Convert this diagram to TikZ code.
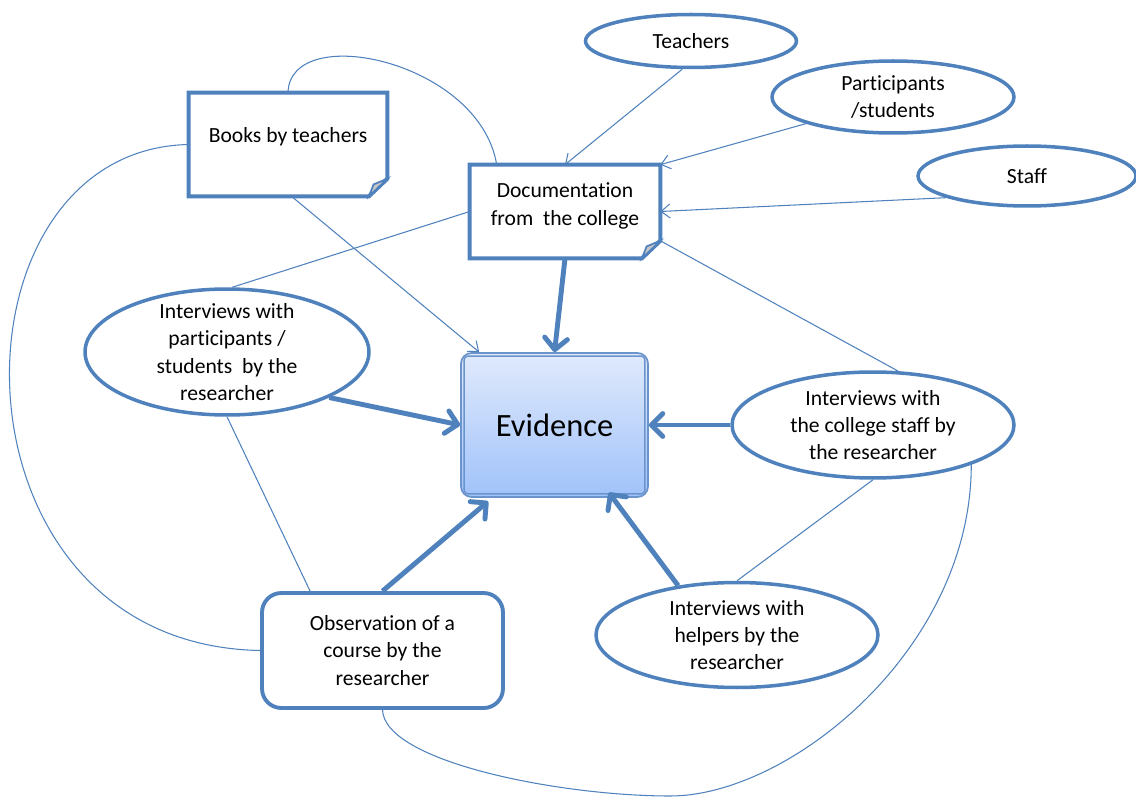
\documentclass[tikz,border=0pt]{standalone}
\usepackage{fontspec}
\setmainfont{Carlito}[Ligatures={NoCommon}]
\usetikzlibrary{shapes.geometric,arrows.meta}

\definecolor{ublue}{RGB}{79,129,189}
\definecolor{evtop}{RGB}{224,234,252}
\definecolor{evbot}{RGB}{160,194,250}
\definecolor{evline}{RGB}{108,148,204}

% outline of a sheet with a folded lower right corner
\newcommand{\sheetedge}[1]{%
  \draw[ublue, line width=2.3pt, line join=miter] (#1.north west) -- (#1.north east)
    -- ([yshift=10pt]#1.south east) -- ([xshift=-10.5pt]#1.south east) -- (#1.south west) -- cycle;
  \draw[ublue, line width=1pt, fill=gray!45] ([xshift=-10.5pt]#1.south east)
    -- ([shift={(-7.8pt,6.8pt)}]#1.south east) -- ([yshift=10pt]#1.south east) -- cycle;
}

\begin{document}
\begin{tikzpicture}[x=0.02cm, y=-0.02cm,
  every node/.style={font=\fontsize{12.3}{15.5}\selectfont},
  oval/.style={ellipse, draw=ublue, fill=white, line width=2pt, inner sep=0pt},
  sheet/.style={rectangle, fill=white, inner sep=0pt, align=center},
  roundbox/.style={rectangle, rounded corners=11pt, draw=ublue, fill=white, line width=2.2pt, align=center},
  evbox/.style={rectangle, rounded corners=6pt, draw=evline, line width=1pt, top color=evtop, bottom color=evbot,
    font=\fontsize{18.5}{22}\selectfont},
  link/.style={ublue, line width=0.6pt},
  linkarrow/.style={link, -{Straight Barb[length=5pt,width=8pt]}},
  feed/.style={ublue, line width=2.8pt, -{Straight Barb[length=6.5pt,width=13pt,round]}}]
  \useasboundingbox (0,0) rectangle (1136,797);

  % sources of the documentation
  \node[oval, minimum width=4.22cm, minimum height=1.06cm] (teachers) at (691,41) {Teachers};
  \node[oval, minimum width=4.84cm, minimum height=1.44cm, align=center] (part) at (893,97) {Participants\\/students};
  \node[oval, minimum width=4.36cm, minimum height=1.2cm] (staff) at (1027,176) {Staff};

  % documents
  \node[sheet, minimum width=3.96cm, minimum height=2.06cm, text depth=11pt] (books) at (288,144.5) {Books by teachers};
  \node[sheet, minimum width=3.8cm, minimum height=1.86cm] (doc) at (565,211.5) {Documentation\\[0pt]from\ \ the college\\[-7pt]\mbox{}};
  \sheetedge{books}
  \sheetedge{doc}

  % centre
  \node[evbox, minimum width=3.74cm, minimum height=2.88cm] (evid) at (554.5,425) {Evidence};
  \draw[evline, line width=0.8pt, rounded corners=2pt] ([shift={(2.3pt,-2.3pt)}]evid.north west)
    rectangle ([shift={(-2.3pt,2.3pt)}]evid.south east);

  % interviews and observation
  \node[oval, minimum width=5.68cm, minimum height=2.52cm,
    label={[align=center]center:Interviews with\\participants /\\students\ \ by the\\researcher}] (ipart) at (227,352) {};
  \node[oval, minimum width=5.64cm, minimum height=2.12cm,
    label={[align=center]center:Interviews with\\the college staff by\\the researcher}] (istaff) at (873,425) {};
  \node[oval, minimum width=5.64cm, minimum height=2.1cm,
    label={[align=center]center:Interviews with\\helpers by the\\researcher}] (helpers) at (737,635) {};
  \node[roundbox, minimum width=4.82cm, minimum height=2.3cm] (obs) at (382.5,650.5) {Observation of a\\course by the\\researcher};

  % into the documentation
  \draw[linkarrow] ([xshift=-5pt]teachers.south) -- (doc.north);
  \draw[linkarrow] (part.197) -- (doc.north east);
  \draw[linkarrow] (staff.195) -- (doc.east);
  \draw[linkarrow] ([xshift=2pt]books.south) -- ([xshift=0.38cm]evid.north west);

  % plain links
  \draw[link] (doc.west) -- ([xshift=3pt]ipart.north);
  \draw[link] ([yshift=10pt]doc.south east) -- (istaff.65);
  \draw[link] (ipart.south) -- ([xshift=1cm]obs.north west);
  \draw[link] (istaff.south) -- (helpers.north);

  % loops
  \draw[link] (books.north) .. controls +(2,-72) and +(-17,-104) .. ([xshift=0.54cm]doc.north west);
  \draw[link] (books.west) .. controls +(-249,5) and +(-322,-6) .. (obs.west);
  \coordinate (dip) at (670,796);
  \draw[link] (obs.south) .. controls +(2,52) and +(-110,0) .. (dip)
    .. controls +(120,0) and +(0,184) .. (istaff.338);

  % evidence
  \draw[feed] (doc.south) -- (evid.north);
  \draw[feed] (ipart.336) -- (evid.west);
  \draw[feed] (istaff.west) -- (evid.east);
  \draw[feed] (obs.north) -- ([xshift=0.56cm,yshift=-2pt]evid.south west);
  \draw[feed] (helpers.140) -- ([xshift=-0.8cm,yshift=3pt]evid.south east);

\end{tikzpicture}
\end{document}
